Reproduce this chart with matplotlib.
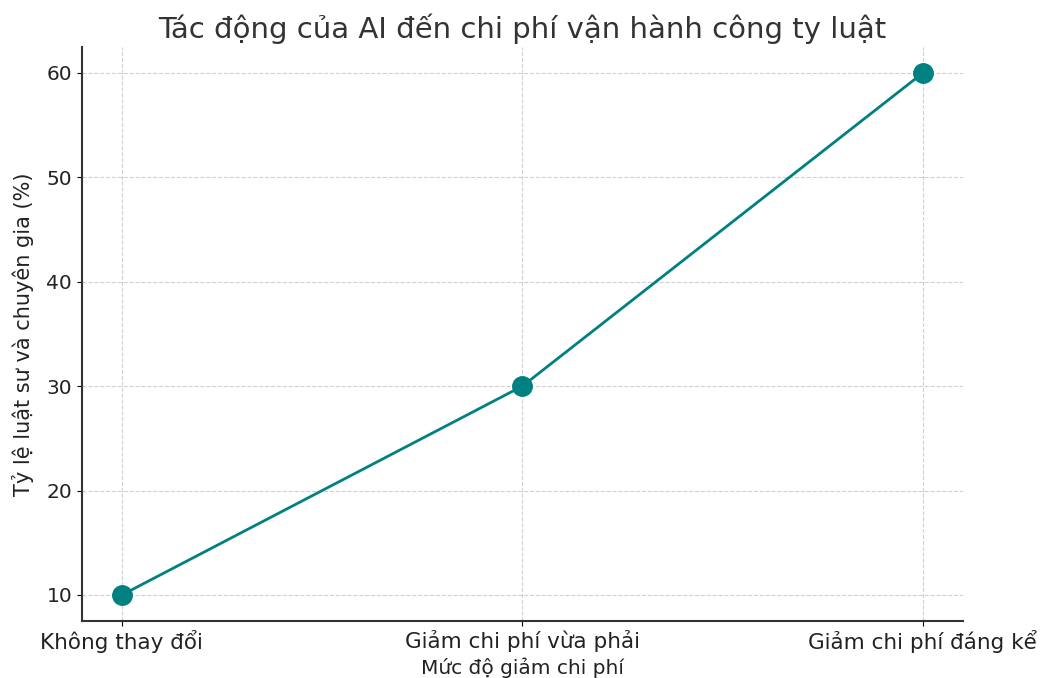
import matplotlib
matplotlib.use('Agg')
import matplotlib.pyplot as plt

# data
categories = ['Không thay đổi', 'Giảm chi phí vừa phải', 'Giảm chi phí đáng kể']
percent = [10, 30, 60]
yticks = [10, 20, 30, 40, 50, 60]

plt.rcParams['font.family'] = ['DejaVu Sans']

fig = plt.figure(figsize=(10.49, 6.78), dpi=100)
ax = fig.add_axes([0.078, 0.084, 0.84, 0.847])

ax.plot(range(len(categories)), percent, color='#008080', linewidth=2,
        marker='o', markersize=14)

ax.set_xticks(range(len(categories)))
ax.set_xticklabels(categories, fontsize=15.5, color='#222222')
ax.set_yticks(yticks)
ax.tick_params(axis='y', labelsize=14.5, labelcolor='#222222')
ax.tick_params(axis='x', pad=3)
ax.set_xlabel('Mức độ giảm chi phí', fontsize=14.5, color='#222222', labelpad=3)
ax.set_ylabel('Tỷ lệ luật sư và chuyên gia (%)', fontsize=15, color='#222222',
              labelpad=9)
ax.set_title('Tác động của AI đến chi phí vận hành công ty luật', fontsize=21,
             color='#333333', pad=6)

ax.grid(True, linestyle='--', color='#d0d0d0', linewidth=0.8)
ax.spines['top'].set_visible(False)
ax.spines['right'].set_visible(False)
ax.spines['left'].set_linewidth(1.5)
ax.spines['bottom'].set_linewidth(1.5)
ax.spines['left'].set_color('#333333')
ax.spines['bottom'].set_color('#333333')

plt.savefig('out.png', dpi=100)
